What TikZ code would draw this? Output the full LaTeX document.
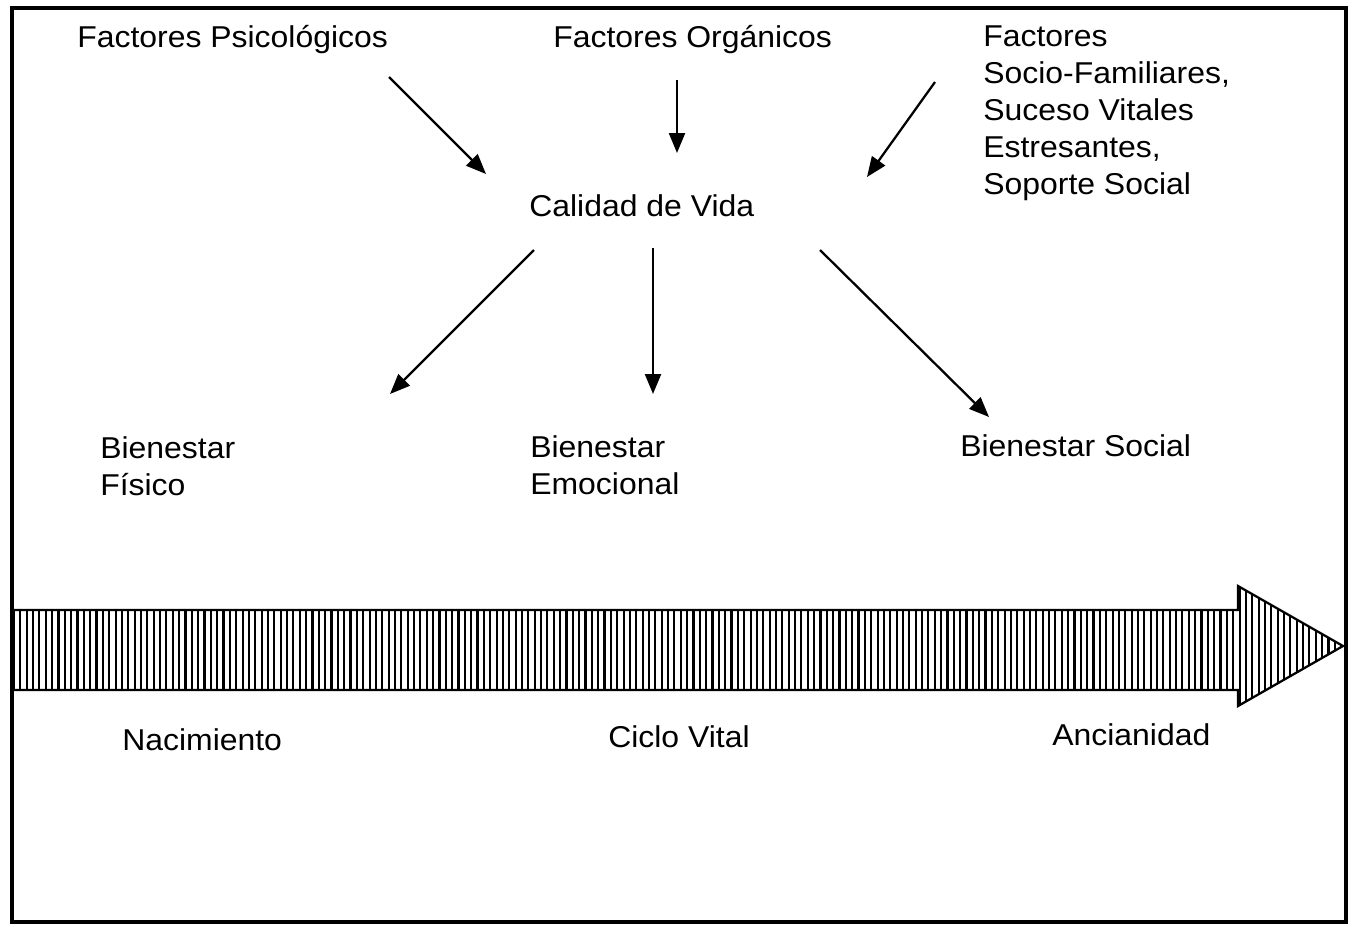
\documentclass[tikz,border=0pt]{standalone}
\usepackage{fontspec}
\setmainfont[FakeStretch=1.06]{Liberation Sans}
\usetikzlibrary{arrows.meta}
\begin{document}
\begin{tikzpicture}[x=0.75pt,y=-0.75pt,
  lbl/.style={inner sep=0pt,font=\fontsize{22.6}{27.75}\selectfont,align=left},
  conn/.style={line width=1.7pt,-{Triangle[length=15pt,width=12pt]}}]
\useasboundingbox (0,0) rectangle (1352,926);
\draw[line width=2.6pt] (12,8) rectangle (1346,922);
% big arrow
\def\arrowpath{(12,610) -- (1238,610) -- (1238,586) -- (1343,646) -- (1238,706) -- (1238,690) -- (12,690) -- cycle}
\begin{scope}
\clip \arrowpath;
\foreach \x in {14,20.35,...,1345} \draw[line width=1.6pt] (\x,580) -- (\x,712);
\end{scope}
\draw[line width=1.7pt,line join=miter] \arrowpath;
% texts
\node[lbl,anchor=base west] (psi) at (77,47) {Factores Psicológicos};
\node[lbl,anchor=base west] (org) at (553,47) {Factores Orgánicos};
\node[lbl,anchor=north west] (soc) at (983,25) {Factores\\Socio-Familiares,\\Suceso Vitales\\Estresantes,\\Soporte Social};
\node[lbl,anchor=base west] (cal) at (529,216) {Calidad de Vida};
\node[lbl,anchor=north west] (fis) at (100,436) {Bienestar\\Físico};
\node[lbl,anchor=north west] (emo) at (530,435) {Bienestar\\Emocional};
\node[lbl,anchor=base west] (bso) at (960,456) {Bienestar Social};
\node[lbl,anchor=base west] (nac) at (122,750) {Nacimiento};
\node[lbl,anchor=base west] (cic) at (608,747) {Ciclo Vital};
\node[lbl,anchor=base west] (anc) at (1052,745) {Ancianidad};
% connector end points
\coordinate (a1s) at (389,77); \coordinate (a1e) at (486,174);
\coordinate (a2s) at (677,80); \coordinate (a2e) at (677,153);
\coordinate (a3s) at (935,82); \coordinate (a3e) at (867,177);
\coordinate (b1s) at (534,250); \coordinate (b1e) at (390,394);
\coordinate (b2s) at (653,248); \coordinate (b2e) at (653,394);
\coordinate (b3s) at (820,250); \coordinate (b3e) at (989,417);
\draw[conn] (a1s) -- (a1e);
\draw[conn] (a2s) -- (a2e);
\draw[conn] (a3s) -- (a3e);
\draw[conn] (b1s) -- (b1e);
\draw[conn] (b2s) -- (b2e);
\draw[conn] (b3s) -- (b3e);
\end{tikzpicture}
\end{document}
